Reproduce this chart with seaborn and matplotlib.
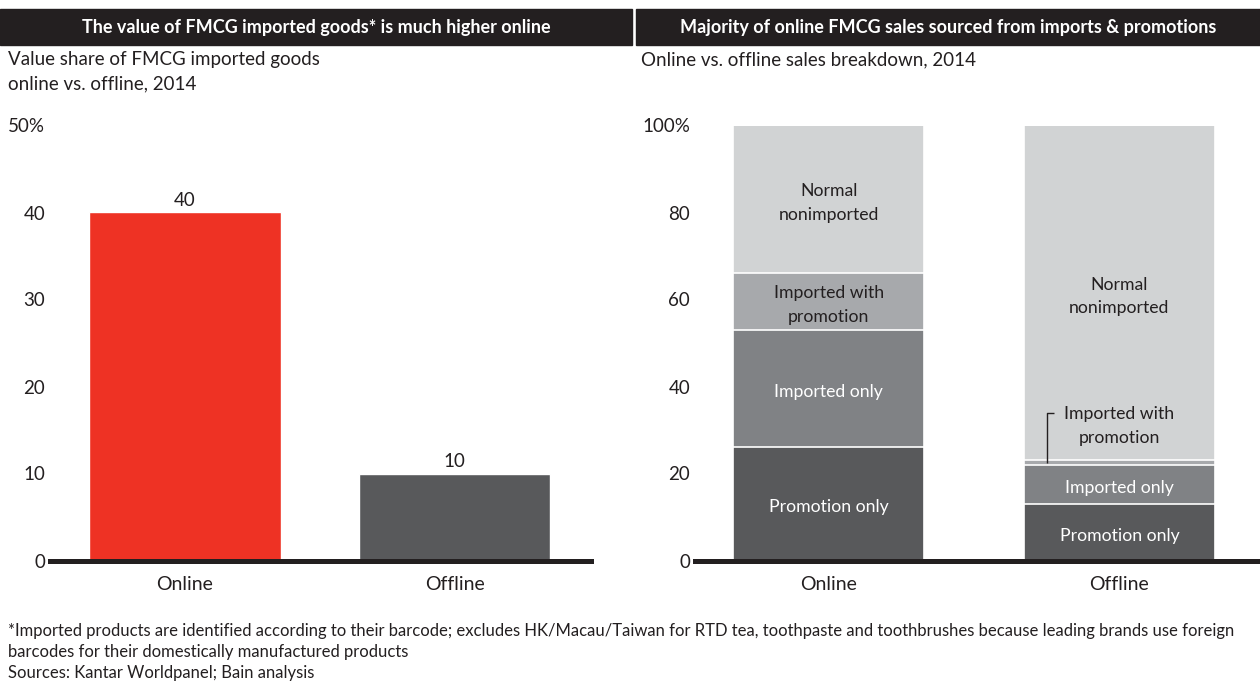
import matplotlib
matplotlib.use("Agg")
import matplotlib.pyplot as plt
import seaborn as sns
import pandas as pd

# ---- data ----
channels = ["Online", "Offline"]
import_share = [40, 10]                       # value share of imported FMCG goods, %
left_ticks = [0, 10, 20, 30, 40, 50]
left_tick_labels = ["0", "10", "20", "30", "40", "50%"]

segments = ["Promotion only", "Imported only", "Imported with\npromotion", "Normal\nnonimported"]
online_mix = [26, 27, 13, 34]                 # % of online sales
offline_mix = [13, 9, 1, 77]                  # % of offline sales
right_ticks = [0, 20, 40, 60, 80, 100]
right_tick_labels = ["0", "20", "40", "60", "80", "100%"]

# ---- styling ----
RED = "#ee3224"
DARK = "#231f20"
seg_colors = ["#58595b", "#808285", "#a7a9ac", "#d1d3d4"]
seg_text = ["white", "white", DARK, DARK]

sns.set_theme(style="white")
plt.rcParams["font.family"] = ["Lato", "DejaVu Sans"]
plt.rcParams["text.color"] = DARK

W, H = 1260, 682
fig = plt.figure(figsize=(W / 100, H / 100), dpi=100)


def axes_px(x0, x1, y_top, y_bot):
    return fig.add_axes([x0 / W, 1 - y_bot / H, (x1 - x0) / W, (y_bot - y_top) / H])


def style_axis(ax, ticks, labels, ymax):
    ax.set_ylim(0, ymax)
    ax.set_yticks(ticks)
    ax.set_yticklabels(labels)
    for s in ["top", "right", "left"]:
        ax.spines[s].set_visible(False)
    ax.spines["bottom"].set_color(DARK)
    ax.spines["bottom"].set_linewidth(3.6)
    ax.tick_params(axis="y", length=0, pad=3.5, labelsize=13.5, labelcolor=DARK)
    ax.tick_params(axis="x", length=0, pad=11, labelsize=14, labelcolor=DARK)
    ax.set_xlabel("")
    ax.set_ylabel("")
    ax.grid(False)
    ax.set_facecolor("white")


# ---- header bands ----
fig.patches.append(plt.Rectangle((0, 1 - 45 / H), 632 / W, 36 / H,
                                 transform=fig.transFigure, color=DARK, zorder=0))
fig.patches.append(plt.Rectangle((636 / W, 1 - 45 / H), 624 / W, 36 / H,
                                 transform=fig.transFigure, color=DARK, zorder=0))
title_font = dict(color="white", fontsize=13, fontweight="bold",
                  va="center", ha="center")
fig.text(316 / W, 1 - 27 / H, "The value of FMCG imported goods* is much higher online", **title_font)
fig.text(948 / W, 1 - 27 / H, "Majority of online FMCG sales sourced from imports & promotions", **title_font)

sub_font = dict(fontsize=13.5, va="center", ha="left")
fig.text(8 / W, 1 - 60 / H, "Value share of FMCG imported goods", **sub_font)
fig.text(8 / W, 1 - 84 / H, "online vs. offline, 2014", **sub_font)
fig.text(641 / W, 1 - 60 / H, "Online vs. offline sales breakdown, 2014", **sub_font)

# ---- left chart: imported share ----
axl = axes_px(50, 591, 125.5, 560.5)
df_left = pd.DataFrame({"channel": channels, "share": import_share})
sns.barplot(data=df_left, x="channel", y="share", hue="channel",
            palette=[RED, seg_colors[0]], width=0.709, saturation=1,
            legend=False, ax=axl)
axl.set_xlim(-0.501, 1.506)
style_axis(axl, left_ticks, left_tick_labels, 50)
for i, v in enumerate(import_share):
    axl.text(i, v + 0.4, f"{v}", ha="center", va="bottom", fontsize=13.5, color=DARK)

# ---- right chart: stacked sales mix ----
axr = axes_px(695, 1260, 125.5, 560.5)
rows = []
for ch, mix in zip(channels, [online_mix, offline_mix]):
    cum = 0
    for seg, val in zip(segments, mix):
        rows.append({"channel": ch, "segment": seg, "value": val,
                     "bottom": cum, "top": cum + val})
        cum += val
df_right = pd.DataFrame(rows)

# draw cumulative tops from the outermost segment inward so each layer sits on the one below
for seg, col in reversed(list(zip(segments, seg_colors))):
    sub = df_right[df_right["segment"] == seg]
    sns.barplot(data=sub, x="channel", y="top", order=channels, color=col,
                width=0.657, saturation=1, edgecolor="white", linewidth=1.2, ax=axr)
axr.set_xlim(-0.461, 1.484)
style_axis(axr, right_ticks, right_tick_labels, 100)

for _, r in df_right.iterrows():
    xi = channels.index(r["channel"])
    si = segments.index(r["segment"])
    if r["value"] < 3:
        continue
    axr.text(xi, (r["bottom"] + r["top"]) / 2 - 0.8, r["segment"], ha="center", va="center",
             fontsize=12.7, color=seg_text[si], linespacing=1.6)

# callout for the thin offline slice
thin = df_right[(df_right["channel"] == "Offline") & (df_right["value"] < 3)].iloc[0]
mid = (thin["bottom"] + thin["top"]) / 2
lx = 1 - 0.25
axr.plot([lx, lx, lx + 0.025], [mid, 33.8, 33.8], color=DARK, lw=1.0, solid_capstyle="butt")
axr.text(1, 31.0, thin["segment"], ha="center", va="center", fontsize=12.7,
         color=DARK, linespacing=1.6)

# ---- footnote ----
fig.text(8 / W, 1 - 623 / H,
         "*Imported products are identified according to their barcode; excludes HK/Macau/Taiwan for RTD tea, "
         "toothpaste and toothbrushes because leading brands use foreign\n"
         "barcodes for their domestically manufactured products\n"
         "Sources: Kantar Worldpanel; Bain analysis",
         fontsize=12, va="top", ha="left", linespacing=1.38)

fig.savefig("out.png", dpi=100, facecolor="white")
